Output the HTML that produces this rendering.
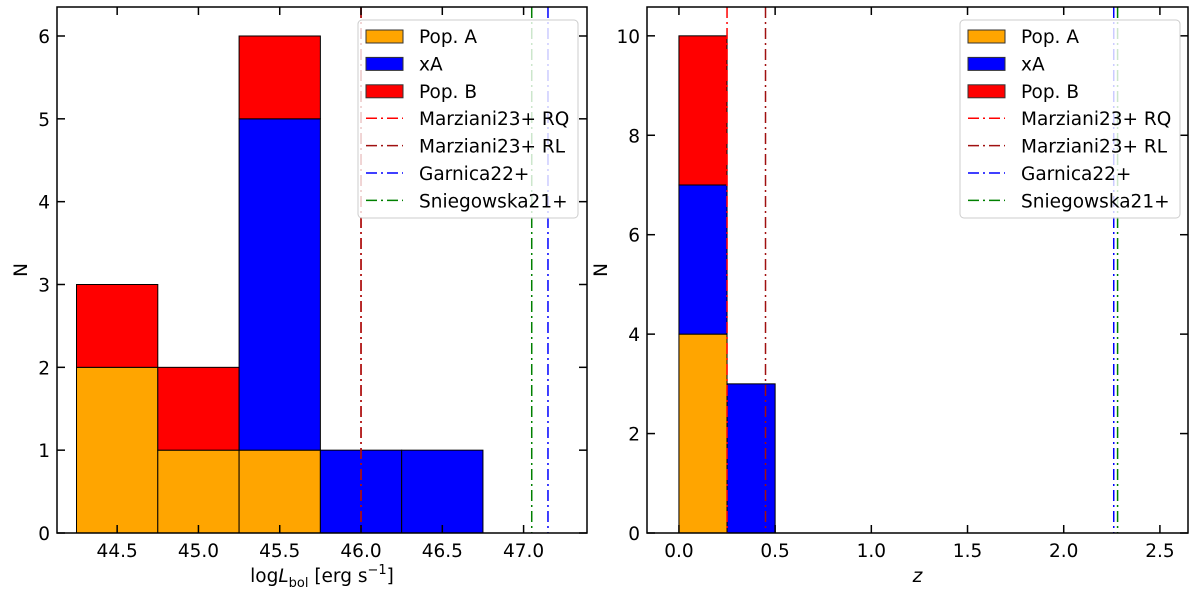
<!DOCTYPE html>
<html><head><meta charset="utf-8"><style>
body{margin:0;background:#fff;}
svg{font-family:"DejaVu Sans","Liberation Sans",sans-serif;}
</style></head><body>
<svg id="fig" width="1200" height="588" xmlns="http://www.w3.org/2000/svg"></svg>
<script>
// Left panel data (log Lbol bins)
const lEdges = [44.25, 44.75, 45.25, 45.75, 46.25, 46.75];
const lPopA = [2, 1, 1, 0, 0];
const lXA = [0, 0, 4, 1, 1];
const lPopB = [1, 1, 1, 0, 0];
const lXTicks = [44.5, 45.0, 45.5, 46.0, 46.5, 47.0];
const lYTicks = [0, 1, 2, 3, 4, 5, 6];
const lLines = [46.0, 46.0, 47.15, 47.05];
// Right panel data (redshift bins)
const rEdges = [0.0, 0.25, 0.5];
const rPopA = [4, 0];
const rXA = [3, 3];
const rPopB = [3, 0];
const rXTicks = [0.0, 0.5, 1.0, 1.5, 2.0, 2.5];
const rYTicks = [0, 2, 4, 6, 8, 10];
const rLines = [0.25, 0.45, 2.26, 2.28];
const lineNames = ["Marziani23+ RQ", "Marziani23+ RL", "Garnica22+", "Sniegowska21+"];
const lineColors = ["#ff0000", "#a01010", "#0000ff", "#008000"];
const patchNames = ["Pop. A", "xA", "Pop. B"];
const patchColors = ["#ffa500", "#0000ff", "#ff0000"];

const NS = "http://www.w3.org/2000/svg";
const svg = document.getElementById("fig");
const DASH = "11,4,2,4";
function mk(tag, attrs, parent) {
  const e = document.createElementNS(NS, tag);
  for (const k in attrs) e.setAttribute(k, attrs[k]);
  (parent || svg).appendChild(e);
  return e;
}

function panel(cfg) {
  const g = mk("g", {});
  
  
  const X = v => cfg.x0 + (v - cfg.xmin) / (cfg.xmax - cfg.xmin) * (cfg.x1 - cfg.x0);
  const Y = v => cfg.y0 - (v - 0) / (cfg.ymax) * (cfg.y0 - cfg.y1);
  for (let i = 0; i < cfg.edges.length - 1; i++) {
    const xa = X(cfg.edges[i]), xb = X(cfg.edges[i + 1]);
    let base = 0;
    const stacks = [cfg.a[i], cfg.xa[i], cfg.b[i]];
    for (let s = 0; s < 3; s++) {
      if (stacks[s] <= 0) continue;
      const r = mk("rect", {x: xa, y: Y(base + stacks[s]), width: xb - xa, height: Y(base) - Y(base + stacks[s]), fill: patchColors[s], stroke: "#000", "stroke-width": 1}, g);
      
      
      base += stacks[s];
    }
  }
  for (let i = 0; i < cfg.lines.length; i++) {
    const l = mk("line", {x1: X(cfg.lines[i]), x2: X(cfg.lines[i]), y1: cfg.y1, y2: cfg.y0, stroke: lineColors[i], "stroke-width": 1.5, "stroke-dasharray": DASH}, g);
    
    
  }
  const fr = mk("rect", {x: cfg.x0, y: cfg.y1, width: cfg.x1 - cfg.x0, height: cfg.y0 - cfg.y1, fill: "none", stroke: "#000", "stroke-width": 1.5}, g);
  
  
  cfg.xt.forEach(t => {
    const x = X(t);
    mk("line", {x1: x, x2: x, y1: cfg.y0, y2: cfg.y0 - 8, stroke: "#000", "stroke-width": 1.5}, g);
    mk("line", {x1: x, x2: x, y1: cfg.y1, y2: cfg.y1 + 8, stroke: "#000", "stroke-width": 1.5}, g);
    const tx = mk("text", {x: x, y: cfg.y0 + 24, "text-anchor": "middle", "font-size": 18.5}, g);
    tx.textContent = t.toFixed(1);
    
    
  });
  cfg.yt.forEach(t => {
    const y = Y(t);
    mk("line", {x1: cfg.x0, x2: cfg.x0 + 8, y1: y, y2: y, stroke: "#000", "stroke-width": 1.5}, g);
    mk("line", {x1: cfg.x1, x2: cfg.x1 - 8, y1: y, y2: y, stroke: "#000", "stroke-width": 1.5}, g);
    const ty = mk("text", {x: cfg.x0 - 7, y: y + 7, "text-anchor": "end", "font-size": 18.5}, g);
    ty.textContent = String(t);
    
    
  });
  const ylx = cfg.x0 - cfg.ylOff;
  const yl = mk("text", {x: ylx, y: (cfg.y0 + cfg.y1) / 2, "text-anchor": "middle", "font-size": 18.5, transform: `rotate(-90 ${ylx} ${(cfg.y0 + cfg.y1) / 2})`}, g);
  yl.textContent = "N";
  
  
  const xl = mk("text", {x: (cfg.x0 + cfg.x1) / 2, y: 582, "text-anchor": "middle", "font-size": 18.5}, g);
  xl.innerHTML = cfg.xlabel;
  
  
  const lg = mk("g", {}, g);
  
  
  const lx = cfg.legX;
  mk("rect", {x: lx, y: 20, width: 220, height: 198, rx: 4, fill: "#fff", "fill-opacity": 0.8, stroke: "#ccc", "stroke-width": 1}, lg);
  const names = patchNames.concat(lineNames);
  names.forEach((n, i) => {
    const y = 36 + i * 27.4;
    if (i < 3) {
      mk("rect", {x: lx + 8, y: y - 6, width: 37, height: 13, fill: patchColors[i], stroke: "#333", "stroke-width": 1}, lg);
    } else {
      mk("line", {x1: lx + 8, x2: lx + 45, y1: y, y2: y, stroke: lineColors[i - 3], "stroke-width": 1.5, "stroke-dasharray": DASH}, lg);
    }
    const t = mk("text", {x: lx + 61, y: y + 7, "font-size": 18.5}, lg);
    t.textContent = n;
    
    
  });
}

panel({name: "lbol-panel", x0: 57, x1: 587, y0: 533, y1: 7, xmin: 44.13, xmax: 47.39, ymax: 6.35, ylOff: 30,
  edges: lEdges, a: lPopA, xa: lXA, b: lPopB, lines: lLines, xt: lXTicks, yt: lYTicks, legX: 358,
  xlabel: 'log<tspan font-style="italic">L</tspan><tspan font-size="13" dy="5">bol</tspan><tspan dy="-5"> [erg s</tspan><tspan font-size="13" dy="-8">−1</tspan><tspan dy="8">]</tspan>'});
panel({name: "redshift-panel", x0: 647, x1: 1188, y0: 533, y1: 7, xmin: -0.166, xmax: 2.646, ymax: 10.58, ylOff: 40,
  edges: rEdges, a: rPopA, xa: rXA, b: rPopB, lines: rLines, xt: rXTicks, yt: rYTicks, legX: 960,
  xlabel: '<tspan font-style="italic">z</tspan>'});
</script>
</body></html>
